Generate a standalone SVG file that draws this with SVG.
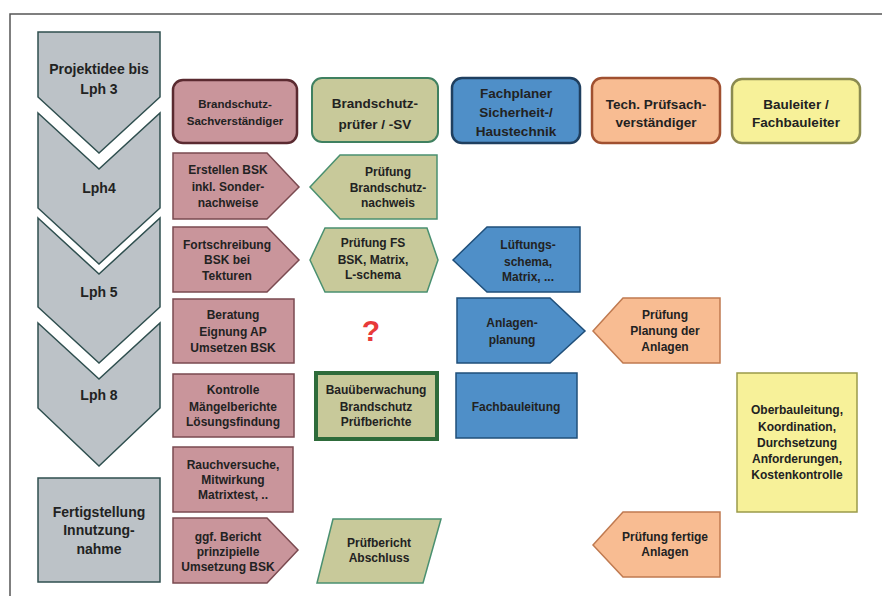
<svg xmlns="http://www.w3.org/2000/svg" width="882" height="596" viewBox="0 0 882 596">
<style>
text{font-family:"Liberation Sans",Arial,sans-serif;font-weight:bold;fill:#222;text-anchor:middle}
.t{font-size:12px}
.h{font-size:13.5px}
.hp{font-size:11.5px}
.l{font-size:14px}
.gray{fill:#bcc2c7;stroke:#2f4f4f;stroke-width:1.5}
.pink{fill:#c9959b;stroke:#7a4a50;stroke-width:1.5}
.pinkh{fill:#c9959b;stroke:#5a2a30;stroke-width:2.5}
.khaki{fill:#c8c99a;stroke:#4a9070;stroke-width:1.5}
.khakih{fill:#c8c99a;stroke:#3f8060;stroke-width:2}
.blue{fill:#4f8fc8;stroke:#1f4f7a;stroke-width:1.5}
.blueh{fill:#4f8fc8;stroke:#1f3f5f;stroke-width:2.5}
.orange{fill:#f8bc92;stroke:#c07a50;stroke-width:1.5}
.orangeh{fill:#f8bc92;stroke:#a05030;stroke-width:2.5}
.yellow{fill:#f7f199;stroke:#9a9a4a;stroke-width:1.5}
.yellowh{fill:#f7f199;stroke:#8a8a50;stroke-width:2.5}
</style>
<rect width="882" height="596" fill="#fff"/>
<path d="M10 596 V14 H882" fill="none" stroke="#555" stroke-width="1.5"/>

<g id="phase-lph3">
<polygon class="gray" points="38,32 160,32 160,97 99,153 38,97"/>
<text class="l" x="99" y="74">Projektidee bis</text>
<text class="l" x="99" y="94">Lph 3</text>
</g>
<g id="phase-lph4">
<polygon class="gray" points="38,113 99,169 160,113 160,208 99,264 38,208"/>
<text class="l" x="99" y="193">Lph4</text>
</g>
<g id="phase-lph5">
<polygon class="gray" points="38,218 99,274 160,218 160,307 99,363 38,307"/>
<text class="l" x="99" y="297">Lph 5</text>
</g>
<g id="phase-lph8">
<polygon class="gray" points="38,323 99,379 160,323 160,408 99,466 38,408"/>
<text class="l" x="99" y="400">Lph 8</text>
</g>
<g id="phase-fertig">
<rect class="gray" x="38" y="478" width="122" height="104"/>
<text class="l" x="99" y="517">Fertigstellung</text>
<text class="l" x="99" y="535">Innutzung-</text>
<text class="l" x="99" y="554">nahme</text>
</g>

<g id="head-bsv">
<rect class="pinkh" x="173" y="80" width="124" height="63" rx="10"/>
<text class="hp" x="235" y="108">Brandschutz-</text>
<text class="hp" x="235" y="125">Sachverständiger</text>
</g>
<g id="head-pruefer">
<rect class="khakih" x="312" y="78" width="126" height="64" rx="10"/>
<text class="h" x="375" y="108">Brandschutz-</text>
<text class="h" x="375" y="129">prüfer / -SV</text>
</g>
<g id="head-fachplaner">
<rect class="blueh" x="452" y="78" width="128" height="65" rx="10"/>
<text class="h" x="516" y="98">Fachplaner</text>
<text class="h" x="516" y="117">Sicherheit-/</text>
<text class="h" x="516" y="136">Haustechnik</text>
</g>
<g id="head-tech">
<rect class="orangeh" x="592" y="78" width="128" height="65" rx="10"/>
<text class="h" x="656" y="109">Tech. Prüfsach-</text>
<text class="h" x="656" y="127">verständiger</text>
</g>
<g id="head-bauleiter">
<rect class="yellowh" x="732" y="79" width="128" height="64" rx="10"/>
<text class="h" x="796" y="109">Bauleiter /</text>
<text class="h" x="796" y="127">Fachbauleiter</text>
</g>

<g id="erstellen-bsk">
<polygon class="pink" points="173,153 267,153 299,187 267,219 173,219"/>
<text class="t" x="228" y="174">Erstellen BSK</text>
<text class="t" x="228" y="191">inkl. Sonder-</text>
<text class="t" x="228" y="207">nachweise</text>
</g>
<g id="pruefung-bsn">
<polygon class="khaki" points="310,187 340,155 437,155 437,219 340,219"/>
<text class="t" x="388" y="176">Prüfung</text>
<text class="t" x="388" y="192">Brandschutz-</text>
<text class="t" x="388" y="207">nachweis</text>
</g>
<g id="fortschreibung">
<polygon class="pink" points="173,227 267,227 299,260 267,292 173,292"/>
<text class="t" x="227" y="249">Fortschreibung</text>
<text class="t" x="227" y="264">BSK bei</text>
<text class="t" x="227" y="280">Tekturen</text>
</g>
<g id="pruefung-fs">
<polygon class="khaki" points="310,260 325,228 427,228 438,260 427,292 325,292"/>
<text class="t" x="373" y="247">Prüfung FS</text>
<text class="t" x="373" y="264">BSK, Matrix,</text>
<text class="t" x="373" y="279">L-schema</text>
</g>
<g id="lueftung">
<polygon class="blue" points="453,260 487,227 580,227 580,292 487,292"/>
<text class="t" x="528" y="249">Lüftungs-</text>
<text class="t" x="528" y="266">schema,</text>
<text class="t" x="528" y="281">Matrix, ...</text>
</g>
<g id="beratung">
<rect class="pink" x="173" y="299" width="121" height="64"/>
<text class="t" x="233" y="319">Beratung</text>
<text class="t" x="233" y="336">Eignung AP</text>
<text class="t" x="233" y="352">Umsetzen BSK</text>
</g>
<g id="frage">
<text x="371" y="341" style="font-size:30px;fill:#e83a3a">?</text>
</g>
<g id="anlagenplanung">
<polygon class="blue" points="457,298 550,298 585,331 550,363 457,363"/>
<text class="t" x="512" y="327">Anlagen-</text>
<text class="t" x="512" y="344">planung</text>
</g>
<g id="pruefung-planung">
<polygon class="orange" points="593,331 623,298 720,298 720,363 623,363"/>
<text class="t" x="665" y="319">Prüfung</text>
<text class="t" x="665" y="335">Planung der</text>
<text class="t" x="665" y="351">Anlagen</text>
</g>
<g id="kontrolle">
<rect class="pink" x="173" y="374" width="121" height="63"/>
<text class="t" x="233" y="394">Kontrolle</text>
<text class="t" x="233" y="411">Mängelberichte</text>
<text class="t" x="233" y="426">Lösungsfindung</text>
</g>
<g id="bauueberwachung">
<rect x="316" y="373" width="121" height="66" fill="#c8c99a" stroke="#2e6b3a" stroke-width="4"/>
<text class="t" x="376" y="394">Bauüberwachung</text>
<text class="t" x="376" y="411">Brandschutz</text>
<text class="t" x="376" y="426">Prüfberichte</text>
</g>
<g id="fachbauleitung">
<rect class="blue" x="456" y="373" width="121" height="65"/>
<text class="t" x="516" y="411">Fachbauleitung</text>
</g>
<g id="oberbauleitung">
<rect class="yellow" x="737" y="373" width="120" height="139"/>
<text class="t" x="797" y="414">Oberbauleitung,</text>
<text class="t" x="797" y="431">Koordination,</text>
<text class="t" x="797" y="447">Durchsetzung</text>
<text class="t" x="797" y="463">Anforderungen,</text>
<text class="t" x="797" y="479">Kostenkontrolle</text>
</g>
<g id="rauchversuche">
<rect class="pink" x="173" y="447" width="120" height="65"/>
<text class="t" x="233" y="469">Rauchversuche,</text>
<text class="t" x="233" y="484">Mitwirkung</text>
<text class="t" x="233" y="499">Matrixtest, ..</text>
</g>
<g id="ggf-bericht">
<polygon class="pink" points="173,518 267,518 298,550 267,583 173,583"/>
<text class="t" x="228" y="541">ggf. Bericht</text>
<text class="t" x="228" y="556">prinzipielle</text>
<text class="t" x="228" y="571">Umsetzung BSK</text>
</g>
<g id="pruefbericht">
<polygon class="khaki" points="333,519 441,519 423,583 317,583"/>
<text class="t" x="379" y="547">Prüfbericht</text>
<text class="t" x="379" y="562">Abschluss</text>
</g>
<g id="pruefung-fertig">
<polygon class="orange" points="593,545 623,512 720,512 720,577 623,577"/>
<text class="t" x="665" y="541">Prüfung fertige</text>
<text class="t" x="665" y="556">Anlagen</text>
</g>
</svg>
